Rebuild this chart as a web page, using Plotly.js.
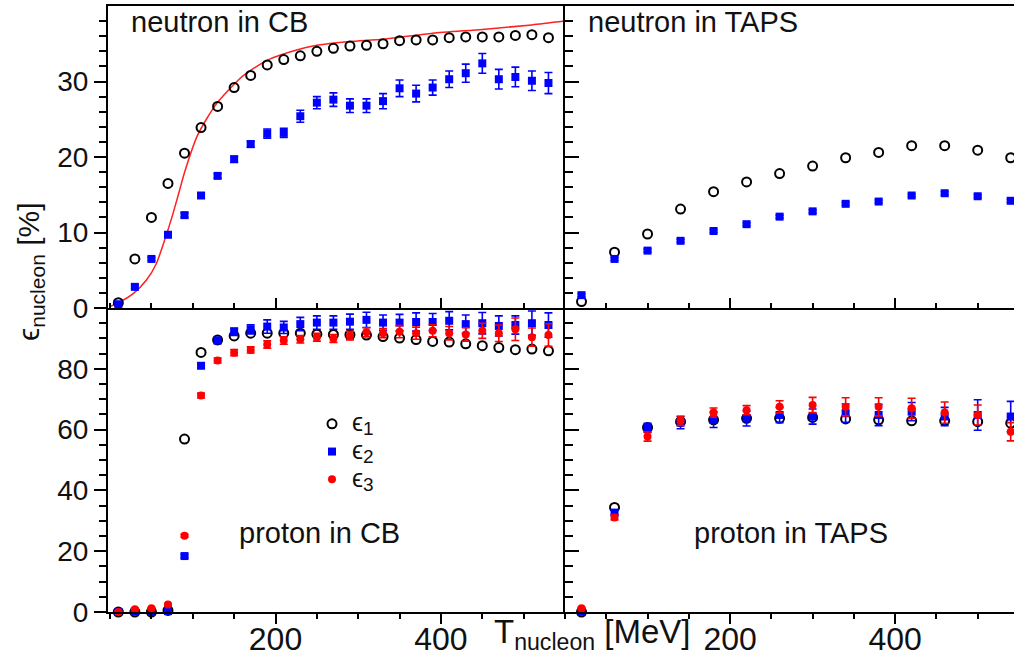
<!DOCTYPE html>
<html>
<head>
<meta charset="utf-8">
<script src="https://cdn.plot.ly/plotly-3.0.1.min.js"></script>
<style>html,body{margin:0;padding:0;background:#fff;}#plot{width:1014px;height:657px;}</style>
</head>
<body>
<div id="plot"></div>
<script>
// ---- data ----
const T_CB = [10,30,50,70,90,110,130,150,170,190,210,230,250,270,290,310,330,350,370,390,410,430,450,470,490,510,530];
const T_TAPS = [20,60,100,140,180,220,260,300,340,380,420,460,500,540];

// neutron in CB
const nCB_e1 = [0.7,6.5,12.0,16.5,20.5,23.9,26.7,29.2,30.8,32.2,32.9,33.4,34.0,34.4,34.7,34.8,35.0,35.4,35.5,35.5,35.8,35.9,35.9,35.9,36.1,36.2,35.8];
const nCB_e2 = [0.5,2.8,6.5,9.7,12.3,14.9,17.5,19.7,21.7,23.1,23.2,25.4,27.2,27.6,26.8,26.8,27.4,29.1,28.4,29.2,30.3,31.1,32.4,30.3,30.6,30.1,29.8];
const nCB_e2err = [0.2,0.2,0.2,0.3,0.3,0.3,0.3,0.4,0.4,0.6,0.6,0.8,0.8,0.9,0.9,0.9,1.0,1.1,1.1,1.0,1.1,1.2,1.3,1.3,1.3,1.3,1.4];
const fitT   = [0,12,28,44,56,66,75,83,91,105,117,129,141,157,173,190,206,230,250,290,330,390,450,510,550];
const fitEff = [0.2,0.8,1.9,3.7,5.9,9.0,12.1,15.2,18.3,22.7,25.1,27.1,28.6,30.4,31.7,32.8,33.5,34.3,34.8,35.3,35.6,36.4,36.9,37.5,38.0];

// neutron in TAPS
const nTAPS_e1 = [0.85,7.4,9.8,13.1,15.4,16.7,17.8,18.8,19.9,20.6,21.5,21.5,20.9,19.9];
const nTAPS_e2 = [1.7,6.5,7.6,8.9,10.2,11.1,12.1,12.8,13.8,14.1,14.9,15.2,14.8,14.2];
const nTAPS_e2err = [0.2,0.2,0.2,0.2,0.2,0.2,0.2,0.2,0.2,0.2,0.2,0.2,0.2,0.2];

// proton in CB
const pCB_e1 = [0,0,0,0.5,56.9,85.4,89.5,90.8,91.7,91.7,91.7,91.7,91.4,91.3,91.2,91.1,90.6,90.1,89.6,89.0,88.8,88.2,87.6,87.0,86.3,86.5,85.9];
const pCB_e2 = [0,0.1,0,0.3,18.4,81.0,89.3,92.2,93.0,93.9,93.6,94.7,95.2,95.2,95.5,96.1,95.2,95.2,95.4,95.4,95.8,94.7,95.0,94.1,94.4,95.0,94.4];
const pCB_e2err = [0.3,0.3,0.3,0.3,0.5,0.8,1,1.2,1.5,2.2,2,2.2,2.2,2.2,2.5,2.5,2.5,2.7,3,2.8,3,3,3.5,3.3,3,4,4];
const pCB_e3 = [0,0.9,1.2,2.5,25.1,71.2,82.7,85.3,86.2,88.0,89.3,89.7,90.4,90.0,90.9,92.0,91.7,92.2,91.7,92.5,91.7,91.3,92.5,91.7,93.0,90.4,91.1];
const pCB_e3err = [0.3,0.3,0.3,0.3,0.5,0.8,0.8,1,1,1.2,1.2,1.2,1.3,1.3,1.4,1.5,1.5,2,2,2,2.2,2.2,2.5,2.7,3.7,3,3.7];

// proton in TAPS
const pTAPS_e1 = [0,34.4,60.7,62.6,63.2,63.7,63.7,64.0,63.5,63.2,62.9,62.9,62.6,62.1];
const pTAPS_e2 = [0.1,32.7,60.6,62.3,63.2,63.7,64.8,64.3,65.4,64.8,65.9,64.3,64.8,64.3];
const pTAPS_e2err = [0.3,0.8,1.5,2,2.5,2.5,2.5,2.5,3,3.5,3,3,5,5];
const pTAPS_e3 = [1.2,31.1,57.7,62.9,65.6,66.4,67.5,68.1,67.5,67.5,67.0,65.6,64.8,59.3];
const pTAPS_e3err = [0.3,0.8,1.5,1.5,1.5,1.5,2,2.5,3,3,3.3,3.5,3.3,3];

const seriesLabels = ['1','2','3'];
const seriesNames = seriesLabels.map(s=>'<span style="font-size:25px">ϵ</span><sub><span style="font-size:19px">'+s+'</span></sub>');
const xTickVals = [200,400];
const yTopTicks = [0,10,20,30];
const yBotTicks = [0,20,40,60,80];

// ---- styles ----
const FONT = 'Liberation Sans, Arial, DejaVu Sans, sans-serif';
const BLUE = '#0000ff', RED = '#ff0000';
function e1(x,y,xa,ya,leg){return {x:x,y:y,xaxis:xa,yaxis:ya,type:'scatter',mode:'markers',name:seriesNames[0],showlegend:!!leg,cliponaxis:false,
  marker:{symbol:'circle-open',size:9,color:'#000',line:{width:2,color:'#000'}}};}
function e2(x,y,err,xa,ya,leg){return {x:x,y:y,xaxis:xa,yaxis:ya,type:'scatter',mode:'markers',name:seriesNames[1],showlegend:!!leg,cliponaxis:false,
  marker:{symbol:'square',size:8,color:BLUE},error_y:{type:'data',array:err,visible:true,color:BLUE,thickness:1.6,width:4}};}
function e3(x,y,err,xa,ya,leg){return {x:x,y:y,xaxis:xa,yaxis:ya,type:'scatter',mode:'markers',name:seriesNames[2],showlegend:!!leg,cliponaxis:false,
  marker:{symbol:'circle',size:8,color:RED},error_y:{type:'data',array:err,visible:true,color:RED,thickness:1.6,width:4}};}

const traces = [
  {x:fitT,y:fitEff,xaxis:'x2',yaxis:'y2',type:'scatter',mode:'lines',line:{color:'#ff2020',width:1.5,shape:'spline',smoothing:0.6},showlegend:false,cliponaxis:true},
  e1(T_CB,nCB_e1,'x2','y2'), e2(T_CB,nCB_e2,nCB_e2err,'x2','y2'),
  e1(T_TAPS,nTAPS_e1,'x4','y4'), e2(T_TAPS,nTAPS_e2,nTAPS_e2err,'x4','y4'),
  e1(T_CB,pCB_e1,'x','y',true), e2(T_CB,pCB_e2,pCB_e2err,'x','y',true), e3(T_CB,pCB_e3,pCB_e3err,'x','y',true),
  e1(T_TAPS,pTAPS_e1,'x3','y3'), e2(T_TAPS,pTAPS_e2,pTAPS_e2err,'x3','y3'), e3(T_TAPS,pTAPS_e3,pTAPS_e3err,'x3','y3')
];

// ---- layout ----
const W=1014,H=657,L=108,R=0,T=6,B=45;
const PW=W-L-R, PH=H-T-B;
const dL=(565-L)/PW;
const dB=(612-308)/PH;
const xMinor=[0,50,100,150,250,300,350,450,500];
function stepVals(a,b,s,skip){const v=[];for(let t=a;t<=b+1e-9;t+=s){if(t%skip!==0)v.push(t);}return v;}
const yTopMinor=stepVals(2,38,2,10), yBotMinor=stepVals(5,95,5,20);
const ax={showgrid:false,zeroline:false,linecolor:'#000',linewidth:2,tickcolor:'#000',tickwidth:2,
  tickfont:{family:FONT,size:28,color:'#111'}};
const XLAB={family:FONT,size:32,color:'#111'};
function mnr(vals,side,len){return {tickmode:'array',tickvals:vals,ticks:side,ticklen:len,tickwidth:2,tickcolor:'#000'};}
function xa(o){return Object.assign({},ax,{tickmode:'array',tickvals:xTickVals,showline:true,fixedrange:true},o);}
function ya(o){return Object.assign({},ax,{tickmode:'array',showline:true,fixedrange:true},o);}
const LR=[-2.5,550], RR=[0,544];
function px(x){return (x-L)/PW;}
function py(y){return (612-y)/PH;}
const layout={
  width:W,height:H,margin:{l:L,r:R,t:T,b:B,pad:0},paper_bgcolor:'#fff',plot_bgcolor:'#fff',
  font:{family:FONT,color:'#111'},
  xaxis: xa({domain:[0,dL],anchor:'y',range:LR,ticks:'outside',ticklen:10,tickfont:XLAB,ticklabelstandoff:-12,minor:mnr(xMinor,'outside',5)}),
  xaxis2: xa({domain:[0,dL],anchor:'y2',range:LR,ticks:'inside',ticklen:10,showticklabels:false,mirror:true,minor:mnr(xMinor,'inside',5)}),
  xaxis3: xa({domain:[dL,1],anchor:'y3',range:RR,ticks:'outside',ticklen:10,tickfont:XLAB,ticklabelstandoff:-12,minor:mnr(xMinor,'outside',5)}),
  xaxis4: xa({domain:[dL,1],anchor:'y4',range:RR,ticks:'inside',ticklen:10,showticklabels:false,mirror:true,minor:mnr(xMinor,'inside',5)}),
  xaxis5: xa({overlaying:'x',anchor:'y',range:LR,ticks:'inside',ticklen:10,showticklabels:false,showline:false,minor:mnr(xMinor,'inside',5)}),
  xaxis6: xa({overlaying:'x3',anchor:'y3',range:RR,ticks:'inside',ticklen:10,showticklabels:false,showline:false,minor:mnr(xMinor,'inside',5)}),
  yaxis: ya({domain:[0,dB],anchor:'x',range:[0,100],tickvals:yBotTicks,ticks:'outside',ticklen:12,minor:mnr(yBotMinor,'outside',7)}),
  yaxis2: ya({domain:[dB,1],anchor:'x2',range:[0,40],tickvals:yTopTicks,ticks:'outside',ticklen:12,minor:mnr(yTopMinor,'outside',7)}),
  yaxis3: ya({domain:[0,dB],anchor:'x3',range:[0,100],tickvals:yBotTicks,ticks:'inside',ticklen:14,showticklabels:false,minor:mnr(yBotMinor,'inside',8)}),
  yaxis4: ya({domain:[dB,1],anchor:'x4',range:[0,40],tickvals:yTopTicks,ticks:'inside',ticklen:14,showticklabels:false,minor:mnr(yTopMinor,'inside',8)}),
  yaxis5: ya({overlaying:'y',anchor:'x',range:[0,100],tickvals:yBotTicks,ticks:'inside',ticklen:14,showticklabels:false,showline:false,minor:mnr(yBotMinor,'inside',8)}),
  yaxis6: ya({overlaying:'y2',anchor:'x2',range:[0,40],tickvals:yTopTicks,ticks:'inside',ticklen:14,showticklabels:false,showline:false,minor:mnr(yTopMinor,'inside',8)}),
  showlegend:true,
  legend:{x:px(312),y:py(405),xanchor:'left',yanchor:'top',bgcolor:'rgba(0,0,0,0)',borderwidth:0,
    font:{family:FONT,size:19,color:'#111'},tracegroupgap:0,itemwidth:30},
  annotations:[
    {text:'neutron in CB',xref:'paper',yref:'paper',x:px(219),y:py(22),xanchor:'center',yanchor:'middle',showarrow:false,font:{family:FONT,size:29,color:'#111'}},
    {text:'neutron in TAPS',xref:'paper',yref:'paper',x:px(693),y:py(22),xanchor:'center',yanchor:'middle',showarrow:false,font:{family:FONT,size:29,color:'#111'}},
    {text:'proton in CB',xref:'paper',yref:'paper',x:px(319),y:py(533),xanchor:'center',yanchor:'middle',showarrow:false,font:{family:FONT,size:29,color:'#111'}},
    {text:'proton in TAPS',xref:'paper',yref:'paper',x:px(791),y:py(533),xanchor:'center',yanchor:'middle',showarrow:false,font:{family:FONT,size:29,color:'#111'}},
    {text:'T<sub>nucleon</sub> [MeV]',xref:'paper',yref:'paper',x:px(592),y:py(634),xanchor:'center',yanchor:'middle',showarrow:false,font:{family:FONT,size:33,color:'#111'}},
    {text:'ϵ<sub>nucleon</sub> [%]',xref:'paper',yref:'paper',x:px(30),y:py(272),xanchor:'center',yanchor:'middle',textangle:-90,showarrow:false,font:{family:FONT,size:30,color:'#111'}}
  ]
};
Plotly.newPlot('plot',traces,layout,{staticPlot:true,displayModeBar:false});
</script>
</body>
</html>
